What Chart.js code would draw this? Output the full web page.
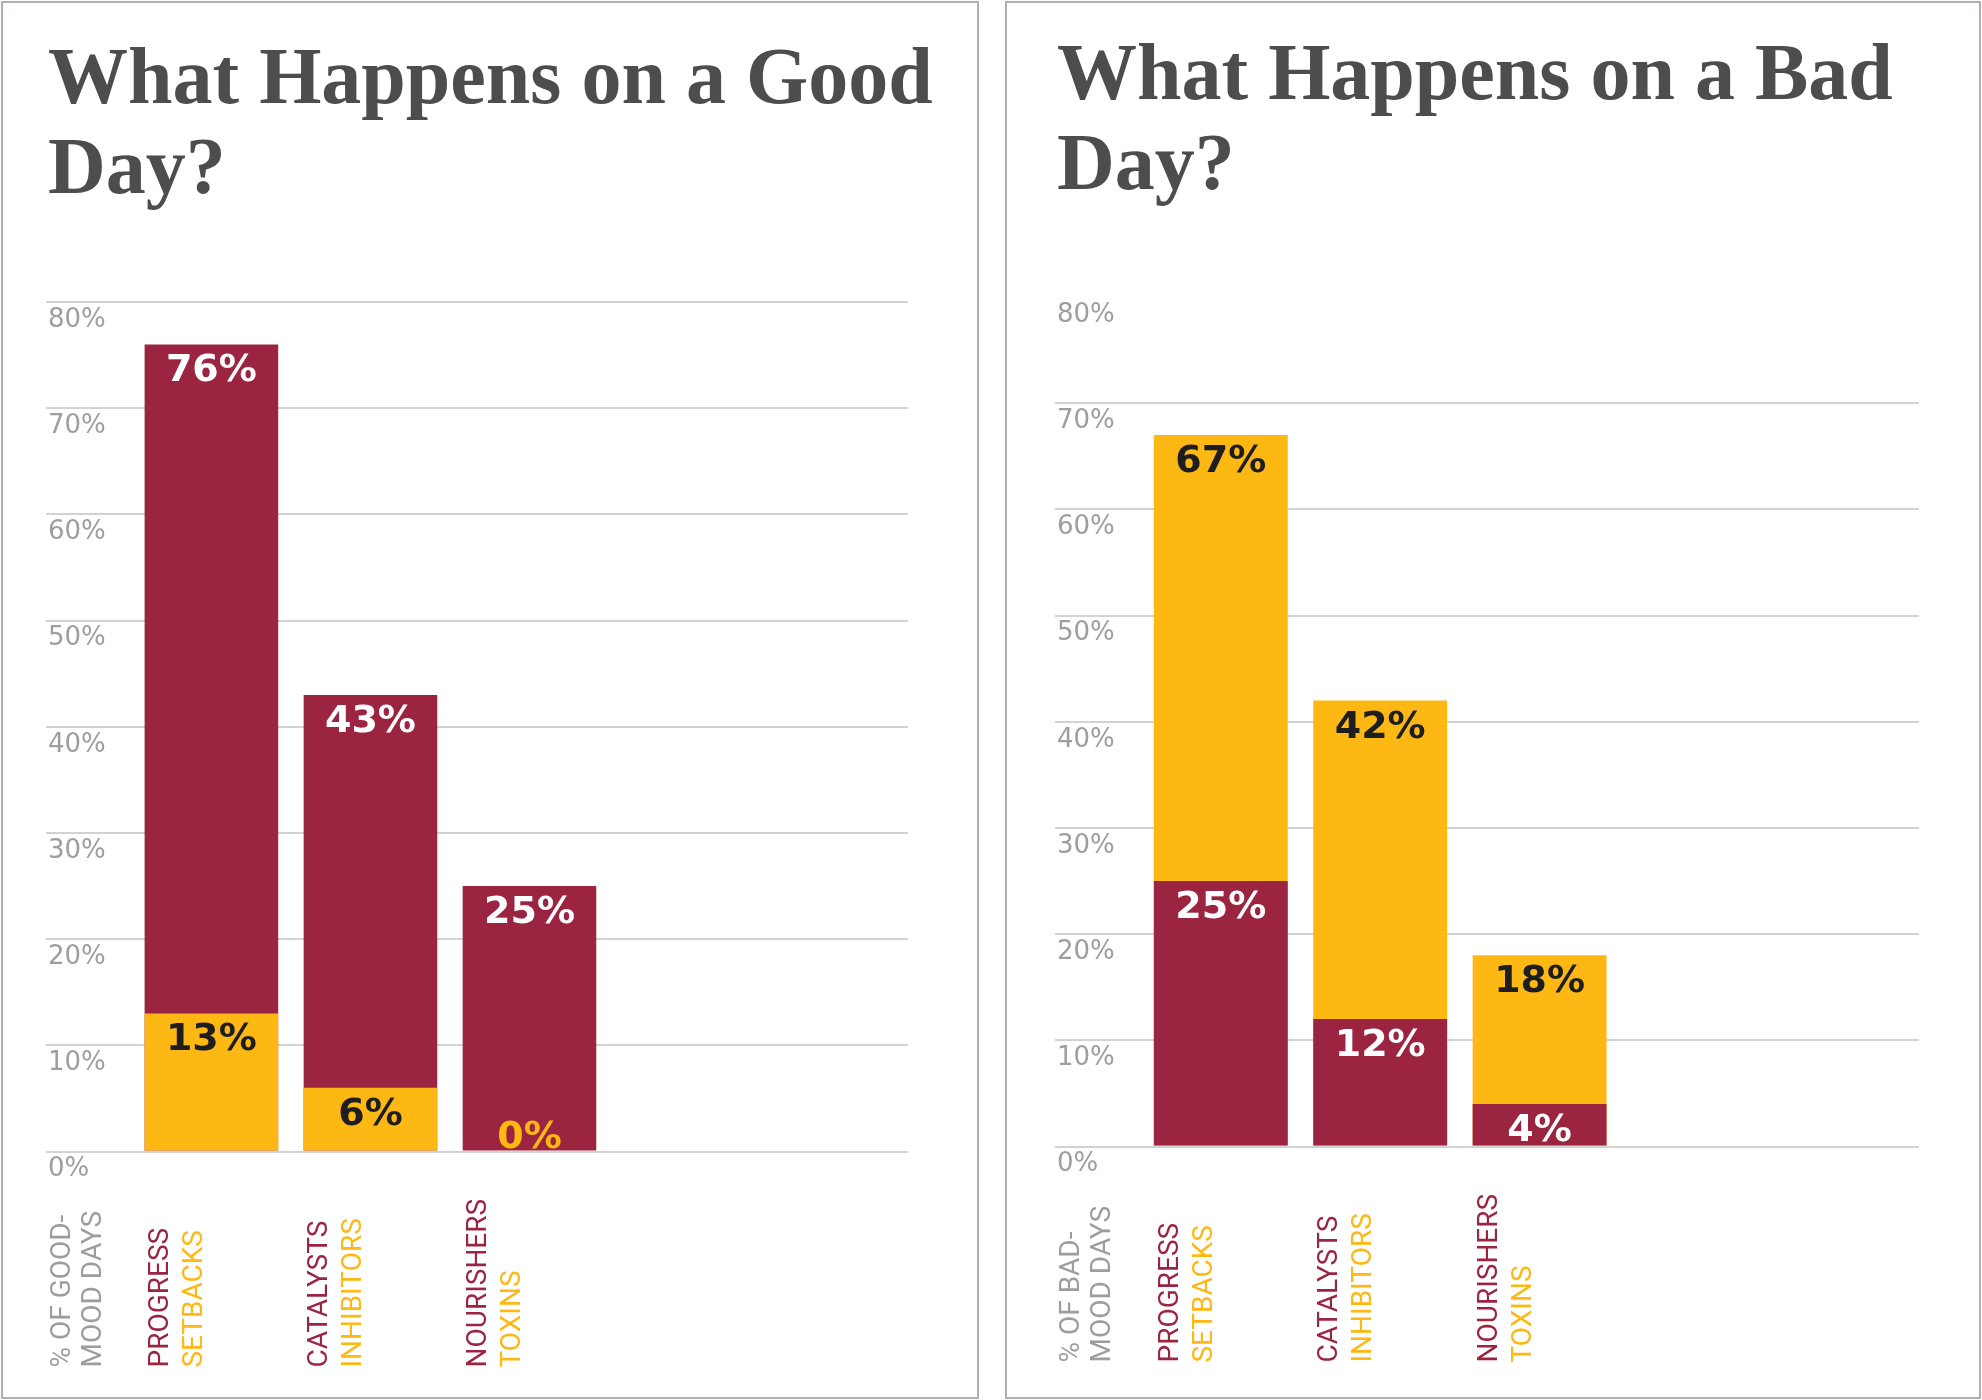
<!DOCTYPE html>
<html>
<head>
<meta charset="utf-8">
<title>What Happens on a Good Day? / What Happens on a Bad Day?</title>
<script src="https://cdn.jsdelivr.net/npm/chart.js@4.4.1/dist/chart.umd.min.js"></script>
<style>
    html, body { margin: 0; padding: 0; background: #fff; }
    body { width: 1982px; height: 1400px; position: relative; overflow: hidden; }
    .panel { position: absolute; top: 1px; height: 1398px; box-sizing: border-box; border: 2px solid #b4b0b0; }
    .title { position: absolute; margin: 0; font-family: "Liberation Serif", serif; font-weight: bold;
             font-size: 80px; line-height: 90px; color: #4d4d4d; white-space: nowrap; }
    .chart-box { position: absolute; top: 0; height: 1400px; }
</style>
</head>
<body>
<div class="panel" style="left:1px; width:978px;"></div>
<div class="panel" style="left:1005px; width:976px;"></div>
<h1 class="title" style="left:48px; top:31px;">What Happens on a Good<br>Day?</h1>
<h1 class="title" style="left:1057px; top:27px;">What Happens on a Bad<br>Day?</h1>
<div class="chart-box" style="left:0; width:990px;"><canvas id="goodChart"></canvas></div>
<div class="chart-box" style="left:990px; width:992px;"><canvas id="badChart"></canvas></div>

<script>
// categories (first line red, second line yellow)
const positiveLabels = ['PROGRESS', 'CATALYSTS', 'NOURISHERS'];
const negativeLabels = ['SETBACKS', 'INHIBITORS', 'TOXINS'];

// y tick values (shown as %)
const yTicks = [0, 10, 20, 30, 40, 50, 60, 70, 80];

// good-mood days
const goodPositive = [76, 43, 25];
const goodNegative = [13, 6, 0];
const goodAxisTitle = ['% OF GOOD-', 'MOOD DAYS'];

// bad-mood days
const badPositive = [25, 12, 4];
const badNegative = [67, 42, 18];
const badAxisTitle = ['% OF BAD-', 'MOOD DAYS'];

const RED = '#9b2440';
const YELLOW = '#fdb813';
const GRID = '#d2d2d2';
const TICK_GRAY = '#9e9e9e';

// bar slots on the x axis: 1, 2, 3
const slots = positiveLabels.map((c, i) => i + 1);

// value labels inside the bars
const barLabels = {
    id: 'barLabels',
    afterDatasetsDraw(chart) {
        const ctx = chart.ctx;
        ctx.save();
        ctx.font = 'bold 38px "DejaVu Sans"';
        ctx.textAlign = 'center';
        ctx.textBaseline = 'alphabetic';
        chart.data.datasets.forEach((ds, i) => {
            chart.getDatasetMeta(i).data.forEach((bar, j) => {
                const v = ds.data[j].y;
                const y = Math.min(bar.y + 37, bar.base - 4);
                // a zero bar has no room, so its label sits on the other bar in its own colour
                ctx.fillStyle = v === 0 ? ds.backgroundColor : ds.labelColor;
                ctx.fillText(v + '%', bar.x, y);
            });
        });
        ctx.restore();
    }
};

// rotated category labels and axis title under the plot
const axisText = {
    id: 'axisText',
    afterDraw(chart, args, opts) {
        const { ctx, chartArea, scales } = chart;
        const startY = chartArea.bottom + 216;
        ctx.save();
        ctx.font = '28px Roboto';
        ctx.textAlign = 'left';
        ctx.textBaseline = 'middle';
        const drawUp = (text, x, color) => {
            ctx.save();
            ctx.translate(x, startY);
            ctx.rotate(-Math.PI / 2);
            ctx.fillStyle = color;
            ctx.fillText(text, 0, 0);
            ctx.restore();
        };
        opts.axisTitle.forEach((t, k) => drawUp(t, chartArea.left + 17 + k * 31, '#9d9d9d'));
        positiveLabels.forEach((t, i) => {
            const cx = scales.x.getPixelForValue(slots[i]);
            drawUp(t, cx - 50, RED);
            drawUp(negativeLabels[i], cx - 16, YELLOW);
        });
        ctx.restore();
    }
};

function toPoints(values) {
    return values.map((v, i) => ({ x: slots[i], y: v }));
}

function makeChart(id, datasets, axisTitle, padding, hideTopGrid) {
    return new Chart(document.getElementById(id), {
        type: 'bar',
        data: { datasets: datasets },
        plugins: [barLabels, axisText],
        options: {
            responsive: true,
            maintainAspectRatio: false,
            animation: false,
            layout: { padding: padding },
            datasets: {
                bar: { grouped: false, categoryPercentage: 1, barPercentage: 0.84 }
            },
            plugins: {
                legend: { display: false },
                tooltip: { enabled: false },
                axisText: { axisTitle: axisTitle }
            },
            scales: {
                x: {
                    type: 'linear',
                    display: false,
                    offset: false,
                    bounds: 'data',
                    min: -0.04,
                    max: 5.38,
                    grid: { offset: false },
                    // one tick per bar slot, so the bar width follows the slot spacing
                    afterBuildTicks: s => { s.ticks = slots.map(v => ({ value: v })); }
                },
                y: {
                    min: yTicks[0],
                    max: yTicks[yTicks.length - 1],
                    border: { display: false },
                    grid: {
                        drawTicks: false,
                        lineWidth: 2,
                        color: c => (hideTopGrid && c.tick && c.tick.value === yTicks[yTicks.length - 1]) ? 'rgba(0,0,0,0)' : GRID
                    },
                    ticks: {
                        stepSize: yTicks[1] - yTicks[0],
                        mirror: true,
                        padding: 2,
                        labelOffset: 18,
                        color: TICK_GRAY,
                        font: { family: 'DejaVu Sans', size: 26 },
                        callback: v => v + '%'
                    },
                    afterFit: s => { s.width = 0; }
                }
            }
        }
    });
}

// first dataset is drawn on top
makeChart('goodChart', [
    { data: toPoints(goodNegative), backgroundColor: YELLOW, labelColor: '#1e1e1e' },
    { data: toPoints(goodPositive), backgroundColor: RED, labelColor: '#ffffff' }
], goodAxisTitle, { left: 46, right: 82, top: 302, bottom: 248.5 }, false);

makeChart('badChart', [
    { data: toPoints(badPositive), backgroundColor: RED, labelColor: '#ffffff' },
    { data: toPoints(badNegative), backgroundColor: YELLOW, labelColor: '#1e1e1e' }
], badAxisTitle, { left: 65, right: 63, top: 297, bottom: 253.5 }, true);
</script>
</body>
</html>
